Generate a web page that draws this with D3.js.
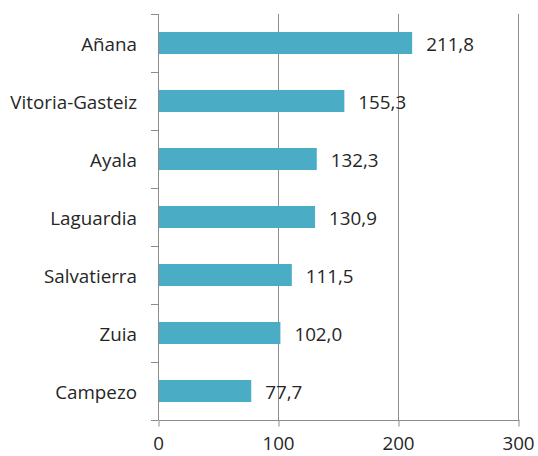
<!DOCTYPE html>
<html>
<head>
<meta charset="utf-8">
<script src="https://cdn.jsdelivr.net/npm/d3@7"></script>
<style>
  body { margin: 0; background: #fff; }
  svg text { font-family: "Open Sans", sans-serif; fill: #262626; font-size: 18.8px; }
  .grid line { stroke: #8c8c8c; stroke-width: 1; }
  .axis path, .axis line { stroke: #8c8c8c; }
</style>
</head>
<body>
<div id="chart"></div>
<script>
const municipios = ["Añana", "Vitoria-Gasteiz", "Ayala", "Laguardia", "Salvatierra", "Zuia", "Campezo"];
const valores = [211.8, 155.3, 132.3, 130.9, 111.5, 102.0, 77.7];
const ticks = [0, 100, 200, 300];

const width = 538, height = 456;
const margin = { top: 14, right: 20, bottom: 36, left: 158 };

const svg = d3.select("#chart").append("svg")
    .attr("width", width)
    .attr("height", height);

const x = d3.scaleLinear()
    .domain([0, 300])
    .range([margin.left, margin.left + 360]);

const y = d3.scaleBand()
    .domain(municipios)
    .range([margin.top, height - margin.bottom])
    .paddingInner(0.62)
    .paddingOuter(0.31);

const yBand = d3.scaleBand()
    .domain(municipios)
    .range([margin.top, height - margin.bottom]);

// vertical gridlines
svg.append("g").attr("class", "grid")
  .selectAll("line")
  .data(ticks.slice(1))
  .enter().append("line")
    .attr("x1", function(d) { return x(d) + 0.5; })
    .attr("x2", function(d) { return x(d) + 0.5; })
    .attr("y1", margin.top)
    .attr("y2", height - margin.bottom);

// bars
svg.append("g")
  .selectAll("rect")
  .data(valores)
  .enter().append("rect")
    .attr("x", x(0))
    .attr("y", function(d, i) { return y(municipios[i]); })
    .attr("width", function(d) { return x(d) - x(0); })
    .attr("height", y.bandwidth())
    .attr("fill", "#4bacc6");

// x axis
const xAxis = svg.append("g").attr("class", "axis")
    .attr("transform", `translate(0,${height - margin.bottom + 0.5})`)
    .call(d3.axisBottom(x).tickValues(ticks).tickSize(6).tickPadding(10).tickSizeOuter(0));
xAxis.select(".domain").remove();
xAxis.append("line")
    .attr("x1", x(0)).attr("x2", x(300) + 1);
xAxis.selectAll("line").attr("transform", "translate(0.5,0)");
xAxis.selectAll("text").attr("fill", "#262626").style("font-size", "18.8px");

// y axis (ticks between categories)
const yAx = svg.append("g").attr("class", "axis");
yAx.append("line")
    .attr("x1", x(0) + 0.5).attr("x2", x(0) + 0.5)
    .attr("y1", margin.top).attr("y2", height - margin.bottom);
yAx.selectAll(".tk")
  .data(d3.range(municipios.length + 1))
  .enter().append("line")
    .attr("class", "tk")
    .attr("x1", x(0) - 7).attr("x2", x(0))
    .attr("y1", function(i) { return margin.top + i * yBand.step() + 0.5; })
    .attr("y2", function(i) { return margin.top + i * yBand.step() + 0.5; });

yAx.selectAll(".lbl")
  .data(municipios)
  .enter().append("text")
    .attr("class", "lbl")
    .attr("x", x(0) - 21)
    .attr("y", function(d) { return yBand(d) + yBand.bandwidth() / 2 + 1; })
    .attr("dy", "0.35em")
    .attr("text-anchor", "end")
    .text(function(d) { return d; });

// value labels
svg.append("g")
  .selectAll("text")
  .data(valores)
  .enter().append("text")
    .attr("x", function(d) { return x(d) + 14; })
    .attr("y", function(d, i) { return yBand(municipios[i]) + yBand.bandwidth() / 2 + 1; })
    .attr("dy", "0.35em")
    .text(function(d) { return d3.format(".1f")(d).replace(".", ","); });
</script>
</body>
</html>
